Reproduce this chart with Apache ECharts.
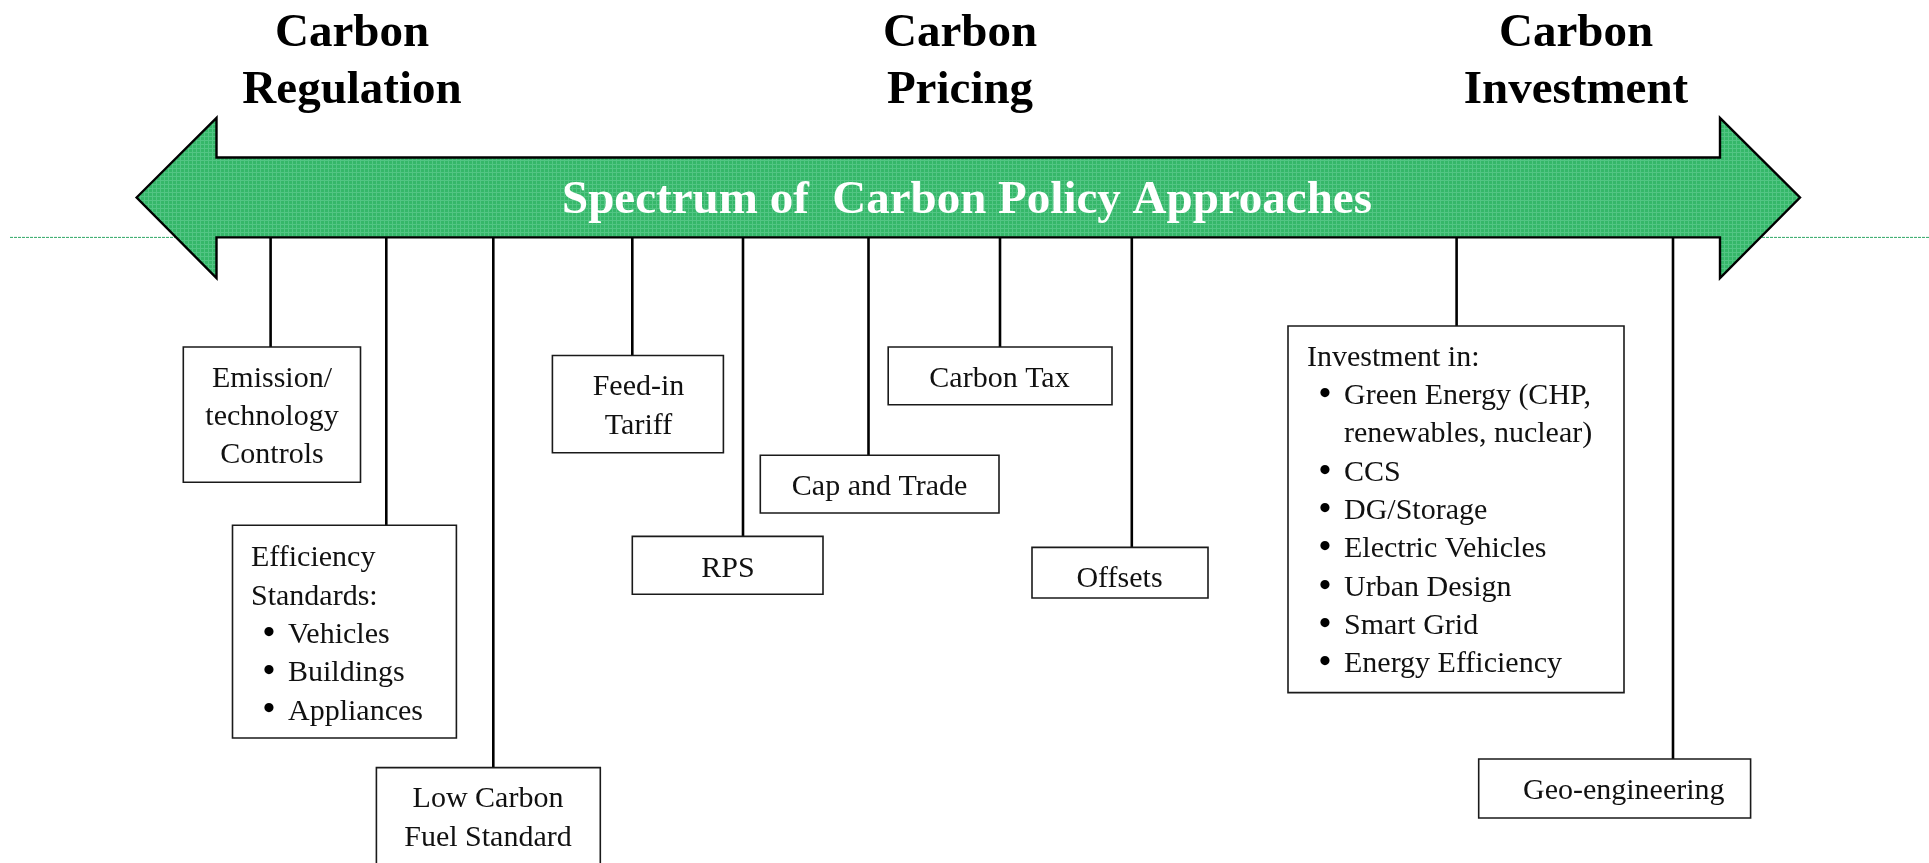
<!DOCTYPE html>
<html>
<head>
<meta charset="utf-8">
<script src="https://cdn.jsdelivr.net/npm/echarts@6/dist/echarts.min.js"></script>
<style>
html,body{margin:0;padding:0;background:#ffffff;}
#chart{width:1929px;height:863px;}
</style>
</head>
<body>
<div id="chart"></div>
<script>
// ---------- data (diagram units on hidden axes: x 0..1929, y 0..863 top-down) ----------
const headerNames = [['Carbon', 'Regulation'], ['Carbon', 'Pricing'], ['Carbon', 'Investment']];
const headerX = [352, 960, 1576];
const headerLineY = [34, 90.5];

const spectrumTitle = 'Spectrum of  Carbon Policy Approaches';
const spectrumTitleAt = [967, 200.5];

const arrowTipX = [136.6, 1800];
const arrowNeckX = [216.5, 1720];
const arrowShaftY = [157.5, 237.4];
const arrowHeadY = [118, 278];
const arrowMidY = 197.5;

const guideLineX = [10, 1929];
const guideLineY = 237.4;

const policyNames = ['Emission/technology Controls', 'Efficiency Standards', 'Low Carbon Fuel Standard',
  'Feed-in Tariff', 'RPS', 'Cap and Trade', 'Carbon Tax', 'Offsets', 'Investment', 'Geo-engineering'];
const stemX = [270.6, 386.3, 493.3, 632.3, 743, 868.5, 1000, 1131.8, 1456.6, 1673];
const boxLeft = [183.3, 232.5, 376.4, 552.4, 632.3, 760.3, 888.2, 1032, 1288, 1478.7];
const boxRight = [360.5, 456.4, 600.3, 723.4, 823, 999, 1112, 1208, 1624, 1750.6];
const boxTop = [347, 525.3, 767.6, 355.5, 536.4, 455.2, 347, 547.4, 326, 759];
const boxBottom = [482.2, 738, 872, 452.7, 594.2, 513, 404.7, 598, 692.6, 818];
const boxLines = [
  ['Emission/', 'technology', 'Controls'],
  ['Efficiency', 'Standards:', '• Vehicles', '• Buildings', '• Appliances'],
  ['Low Carbon', 'Fuel Standard'],
  ['Feed-in', 'Tariff'],
  ['RPS'],
  ['Cap and Trade'],
  ['Carbon Tax'],
  ['Offsets'],
  ['Investment in:', '• Green Energy (CHP,', '  renewables, nuclear)', '• CCS', '• DG/Storage',
   '• Electric Vehicles', '• Urban Design', '• Smart Grid', '• Energy Efficiency'],
  ['Geo-engineering']
];
const textAnchorX = [272, 251, 488, 638.5, 728, 879.6, 999.5, 1119.5, 1307, 1523];
const firstLineY = [379, 558.5, 799.5, 387.5, 569.5, 487.2, 379, 579.5, 358, 791];
const textAlignKind = ['center', 'left', 'center', 'center', 'center', 'center', 'center', 'center', 'left', 'left'];
const lineStep = 38.3;

// ---------- styles ----------
const SERIF = '"Liberation Serif", "DejaVu Serif", serif';
const BOX_FONT = '30px ' + SERIF;
const BULLET_FONT = 'bold 34px ' + SERIF;
const HEADER_FONT = 'bold 47px ' + SERIF;
const TITLE_FONT = 'bold 47px ' + SERIF;
const BULLET_DX = 18;
const TEXT_DX = 37;

const tile = document.createElement('canvas');
tile.width = 4; tile.height = 4;
const tg = tile.getContext('2d');
tg.fillStyle = '#35b769'; tg.fillRect(0, 0, 4, 4);
tg.fillStyle = '#52c584'; tg.fillRect(0, 0, 4, 1); tg.fillRect(0, 0, 1, 4);
const arrowFill = { image: tile, repeat: 'repeat' };

function textEl(x, y, text, font, fill, align) {
  return {
    type: 'text',
    style: {
      x: x, y: y, text: text, font: font, fill: fill,
      align: align, verticalAlign: 'middle',
      textAlign: align, textVerticalAlign: 'middle'
    }
  };
}

const chart = echarts.init(document.getElementById('chart'), null, { renderer: 'canvas' });

chart.setOption({
  animation: false,
  backgroundColor: '#ffffff',
  grid: { left: 0, right: 0, top: 0, bottom: 0 },
  xAxis: { type: 'value', min: 0, max: 1929, show: false },
  yAxis: { type: 'value', min: 0, max: 863, inverse: true, show: false },
  series: [
    {
      name: 'guide', type: 'custom', z: 1, clip: false,
      data: [[guideLineX[0], guideLineY]],
      renderItem: function (params, api) {
        const a = api.coord([guideLineX[0], guideLineY]);
        const b = api.coord([guideLineX[1], guideLineY]);
        return { type: 'line', shape: { x1: a[0], y1: a[1], x2: b[0], y2: b[1] },
          style: { stroke: '#2fa766', lineWidth: 1, lineDash: [3, 1] } };
      }
    },
    {
      name: 'stems', type: 'custom', z: 2, clip: false,
      data: stemX.map((x, i) => [x, boxTop[i]]),
      renderItem: function (params, api) {
        const i = params.dataIndex;
        const a = api.coord([stemX[i], arrowShaftY[1]]);
        const b = api.coord([stemX[i], boxTop[i]]);
        return { type: 'line', shape: { x1: a[0], y1: a[1], x2: b[0], y2: b[1] },
          style: { stroke: '#000000', lineWidth: 2.6 } };
      }
    },
    {
      name: 'arrow', type: 'custom', z: 3, clip: false,
      data: [[arrowTipX[0], arrowMidY]],
      renderItem: function (params, api) {
        const pts = [
          [arrowTipX[0], arrowMidY], [arrowNeckX[0], arrowHeadY[0]], [arrowNeckX[0], arrowShaftY[0]],
          [arrowNeckX[1], arrowShaftY[0]], [arrowNeckX[1], arrowHeadY[0]], [arrowTipX[1], arrowMidY],
          [arrowNeckX[1], arrowHeadY[1]], [arrowNeckX[1], arrowShaftY[1]], [arrowNeckX[0], arrowShaftY[1]],
          [arrowNeckX[0], arrowHeadY[1]]
        ].map(p => api.coord(p));
        const t = api.coord(spectrumTitleAt);
        return {
          type: 'group',
          children: [
            { type: 'polygon', shape: { points: pts },
              style: { fill: arrowFill, stroke: '#000000', lineWidth: 2.4, lineJoin: 'miter' } },
            textEl(t[0], t[1], spectrumTitle, TITLE_FONT, '#ffffff', 'center')
          ]
        };
      }
    },
    {
      name: 'boxes', type: 'custom', z: 4, clip: false,
      data: stemX.map((x, i) => [boxLeft[i], boxTop[i]]),
      renderItem: function (params, api) {
        const i = params.dataIndex;
        const tl = api.coord([boxLeft[i], boxTop[i]]);
        const br = api.coord([boxRight[i], boxBottom[i]]);
        const children = [{
          type: 'rect',
          shape: { x: tl[0], y: tl[1], width: br[0] - tl[0], height: br[1] - tl[1] },
          style: { fill: '#ffffff', stroke: '#1a1a1a', lineWidth: 1.6 }
        }];
        const align = textAlignKind[i];
        boxLines[i].forEach((line, k) => {
          const p = api.coord([textAnchorX[i], firstLineY[i] + k * lineStep]);
          if (line.indexOf('• ') === 0) {
            children.push(textEl(p[0] + BULLET_DX, p[1] - 1, '•', BULLET_FONT, '#000000', 'center'));
            children.push(textEl(p[0] + TEXT_DX, p[1], line.slice(2), BOX_FONT, '#111111', 'left'));
          } else if (line.indexOf('  ') === 0) {
            children.push(textEl(p[0] + TEXT_DX, p[1], line.slice(2), BOX_FONT, '#111111', 'left'));
          } else {
            children.push(textEl(p[0], p[1], line, BOX_FONT, '#111111', align));
          }
        });
        return { type: 'group', children: children };
      }
    },
    {
      name: 'headers', type: 'custom', z: 5, clip: false,
      data: headerX.map(x => [x, headerLineY[0]]),
      renderItem: function (params, api) {
        const i = params.dataIndex;
        return {
          type: 'group',
          children: headerNames[i].map((s, k) => {
            const p = api.coord([headerX[i], headerLineY[k]]);
            return textEl(p[0], p[1], s, HEADER_FONT, '#000000', 'center');
          })
        };
      }
    }
  ]
});
</script>
</body>
</html>
